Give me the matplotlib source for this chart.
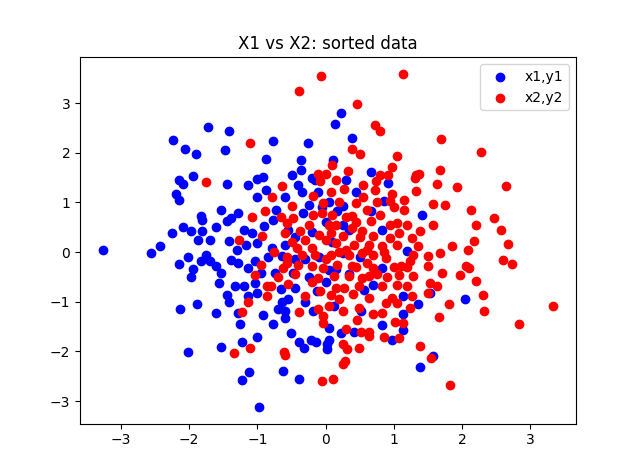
import matplotlib
matplotlib.use("Agg")
import matplotlib.pyplot as plt

blue_pts = [
    (-3.27,0.04),(-2.56,-0.02),(-2.43,0.12),(-2.25,0.39),(-2.23,2.25),(-2.06,2.07),(-1.9,1.97),(-2.15,1.46),
    (-1.95,1.53),(-1.72,2.52),(-1.42,2.43),(-0.77,2.23),(-0.26,2.19),(-1.47,2.05),(-0.88,1.87),(-0.36,1.85),
    (-0.36,1.66),(-0.92,1.52),(-1.0,1.47),(0.23,2.8),(0.14,2.58),(0.38,2.29),(0.11,1.85),(0.66,1.62),
    (-2.09,1.38),(-2.2,1.16),(-2.15,1.04),(-1.82,0.73),(-1.81,0.65),(-2.09,0.51),(-1.97,0.43),(-1.81,0.43),
    (-1.87,0.24),(-2.01,-0.1),(-2.15,-0.24),(-1.82,-0.18),(-1.94,-0.34),(-1.98,-0.51),
    (-1.44,1.38),(-1.14,1.36),(-0.4,1.36),(-0.87,1.24),(-0.35,1.2),(-1.01,1.1),(-0.11,1.2),(-1.53,0.85),
    (-1.29,0.79),(-1.38,0.69),(-1.44,0.63),(-0.72,0.85),(-0.77,0.65),(-0.9,0.53),(-0.33,0.79),(-1.19,0.45),
    (-1.08,0.39),(-1.7,0.24),(-1.41,0.22),(-1.16,0.14),(-1.0,0.18),(-0.79,0.08),(-0.6,0.14),(-0.64,-0.08),
    (-1.75,-0.06),(-1.7,-0.18),(-1.6,-0.28),(-1.53,-0.43),(-1.38,-0.16),(-1.29,-0.22),(-1.04,-0.18),
    (-1.14,-0.32),(-0.94,-0.43),(-0.74,-0.43),(-0.48,-0.43),(-1.56,-0.63),(-1.33,-0.69),(-1.19,-0.69),
    (-1.04,-0.63),(-0.45,-0.73),(-0.13,-0.79),(-1.45,-0.87),(-1.14,-0.89),(-1.0,-0.83),
    (0.3,1.46),(0.91,1.4),(0.86,1.03),(0.25,0.93),(0.17,0.83),(0.67,0.83),(1.42,0.75),(0.25,0.55),
    (0.83,0.45),(0.25,-0.02),(1.19,0.02),(0.05,-0.37),(0.82,-0.32),(0.69,-0.67),(0.57,-0.77),(1.53,-0.83),
    (1.13,-0.89),(2.05,-0.94),
    (-2.13,-1.14),(-1.88,-1.05),(-2.01,-2.01),
    (-1.41,-1.01),(-1.6,-1.22),(-1.29,-1.22),(-0.92,-1.26),(-0.7,-1.14),(-0.6,-1.18),(-0.64,-1.01),
    (-0.18,-1.18),(-1.25,-1.44),(-0.77,-1.44),(-0.6,-1.32),(-1.01,-1.72),(-1.23,-1.82),(-1.54,-1.91),
    (-0.51,-1.64),(-0.39,-1.82),(-0.32,-1.93),(-0.21,-1.78),(-0.14,-1.82),(0.02,-1.85),(0.02,-1.95),
    (-1.13,-2.41),(-1.22,-2.58),(-0.63,-2.39),(-0.39,-2.56),(-0.97,-3.12),
    (0.13,-1.08),(0.52,-1.18),(1.13,-1.24),(1.36,-1.05),(0.83,-1.46),(1.13,-1.56),(0.05,-1.52),
    (0.23,-1.64),(0.42,-1.62),(0.97,-1.78),(0.05,-1.78),(1.57,-2.09),(1.39,-2.31),
    (-0.2,0.4),(-0.1,-0.1),(0.0,0.6),(-0.25,-0.5),(0.1,0.2),(-0.45,0.3),(-0.3,-0.15),(0.35,-0.45),
    (0.0,-0.6),(-0.55,-0.95),(0.05,1.0),(-0.15,1.45),(-0.5,1.55),(-0.05,0.9),(-0.6,1.1),(0.45,1.2),
    (-0.55,0.45),(-0.25,0.95),(-0.45,-0.15),(-0.85,-0.1),(-0.3,-1.0),(0.15,-0.35),(0.35,0.45),(0.5,-0.1),
    (-0.65,-0.75),(-1.3,0.05),(-1.6,0.5),(-0.2,1.5),
]

red_pts = [
    (-0.07,3.55),(-0.39,3.25),(-1.11,2.19),(-0.11,1.58),(0.0,1.58),(1.14,3.59),(0.46,2.98),(0.72,2.56),
    (0.79,2.43),(1.69,2.27),(0.38,2.07),(0.5,1.97),(1.04,1.93),(0.1,1.76),(0.98,1.72),(0.33,1.64),
    (1.67,1.66),(0.79,1.56),(0.91,1.56),(1.33,1.56),(1.37,1.58),(2.28,2.01),
    (-1.75,1.42),(-0.64,1.34),(-0.08,1.44),(-0.79,1.1),(-0.5,0.93),(-0.18,1.12),(-0.04,0.99),(-1.08,0.71),
    (-0.89,0.83),(-0.57,0.59),(-0.48,0.69),(-0.18,0.75),(-0.05,0.79),(-0.93,0.32),(-1.27,0.24),(-0.6,0.39),
    (-0.38,0.43),(-0.3,0.24),(-0.42,0.08),(-0.2,0.08),(-0.57,-0.1),(-0.95,-0.26),(-1.04,-0.47),(-0.63,-0.32),
    (-0.41,-0.26),(-0.57,-0.22),(-0.2,-0.28),(-0.04,-0.32),(-0.11,-0.53),(-0.86,-0.69),(-0.8,-0.69),
    (-0.55,-0.65),(-0.3,-0.89),(-0.08,-0.79),(-0.86,-0.89),
    (0.15,1.46),(0.27,1.26),(0.74,1.44),(1.31,1.5),(1.64,1.38),(0.08,1.2),(0.72,1.24),(0.98,1.16),
    (1.32,1.22),(0.94,1.03),(1.57,0.97),(1.75,0.95),(0.45,0.99),(0.6,0.85),(0.1,0.75),(0.39,0.73),
    (0.79,0.75),(0.67,0.63),(1.04,0.59),(1.19,0.55),(1.57,0.55),(0.15,0.55),(0.39,0.49),(0.54,0.43),
    (1.38,0.43),(0.08,0.39),(0.25,0.32),(0.69,0.32),(0.94,0.28),(1.08,0.39),(1.26,0.28),(1.85,0.12),
    (0.15,0.18),(0.42,0.14),(0.64,0.14),(0.83,0.12),(1.05,0.14),(1.35,0.12),(0.08,-0.06),(0.35,-0.06),
    (0.54,-0.02),(0.89,-0.12),(1.28,-0.06),(1.5,-0.08),(1.67,-0.02),(0.17,-0.26),(0.39,-0.28),(0.6,-0.22),
    (0.69,-0.32),(1.11,-0.28),(1.23,-0.18),(1.5,-0.28),(1.7,-0.43),(0.13,-0.49),(0.35,-0.49),(0.54,-0.53),
    (0.64,-0.49),(1.08,-0.47),(1.28,-0.49),(1.53,-0.63),(1.64,-0.69),(0.83,-0.69),(1.04,-0.67),(1.19,-0.69),
    (0.15,-0.73),(0.27,-0.73),(0.49,-0.69),(1.5,-0.83),(0.08,-0.87),(1.26,-0.89),(0.97,-0.93),(0.64,-0.93),
    (1.93,1.32),(2.65,1.34),(2.13,0.85),(2.47,0.69),(2.21,0.55),(2.57,0.45),(2.18,0.22),(2.09,0.04),
    (2.68,0.16),(2.6,-0.16),(2.73,-0.24),(2.06,-0.28),(2.1,-0.32),(1.97,-0.47),(2.21,-0.59),(2.3,-0.87),
    (-1.14,-1.01),(-1.22,-1.2),(-0.39,-1.2),(-0.11,-1.14),(-0.04,-1.28),(-0.04,-1.42),(-1.35,-2.03),
    (-1.11,-1.93),(-0.61,-2.01),(-0.6,-2.07),(-0.05,-2.6),
    (0.05,-1.08),(0.26,-1.18),(0.49,-1.12),(0.69,-1.24),(0.83,-1.22),(0.89,-1.03),(1.04,-1.03),(1.23,-1.12),
    (1.81,-1.05),(1.66,-1.3),(0.46,-1.36),(1.01,-1.4),(1.13,-1.42),(0.3,-1.54),(0.52,-1.6),(0.63,-1.62),
    (0.63,-1.7),(0.85,-1.72),(1.08,-1.74),(0.26,-1.85),(0.32,-1.95),(0.49,-1.93),(1.38,-1.89),(1.54,-2.13),
    (0.25,-2.25),(0.28,-2.2),(0.11,-2.56),(1.82,-2.68),
    (2.32,-1.18),(3.34,-1.08),(2.84,-1.44),
    (0.2,0.0),(0.3,0.7),(0.5,0.3),(0.45,-0.3),(0.7,-0.05),(0.95,0.55),(1.15,0.85),(0.2,-0.95),
    (0.75,1.0),(0.55,1.35),(1.0,-0.3),(0.85,0.0),(-0.15,-0.05),(0.0,0.25),
    (-0.5,0.2),(-0.35,-0.05),(-0.25,0.55),(-0.1,0.35),(0.0,-0.15),(-0.45,-0.45),(-0.2,-0.6),(0.05,0.55),
    (0.3,0.05),(0.45,0.6),(0.6,0.05),(0.75,-0.45),(0.9,-0.5),(1.0,0.9),(1.15,1.05),(1.2,-0.3),
    (0.4,-0.85),(-0.7,-0.5),(-0.75,0.0),(-0.65,0.7),(0.2,1.0),(0.55,1.1),
]

x1 = [p[0] for p in blue_pts]
y1 = [p[1] for p in blue_pts]
x2 = [p[0] for p in red_pts]
y2 = [p[1] for p in red_pts]

title = "X1 vs X2: sorted data"
labels = ["x1,y1", "x2,y2"]

fig, ax = plt.subplots(figsize=(6.4, 4.76), dpi=100)
ax.scatter(x1, y1, color="blue", label=labels[0])
ax.scatter(x2, y2, color="red", label=labels[1])
ax.set_title(title)
ax.legend(loc="upper right")
fig.savefig("out.png", dpi=100)
